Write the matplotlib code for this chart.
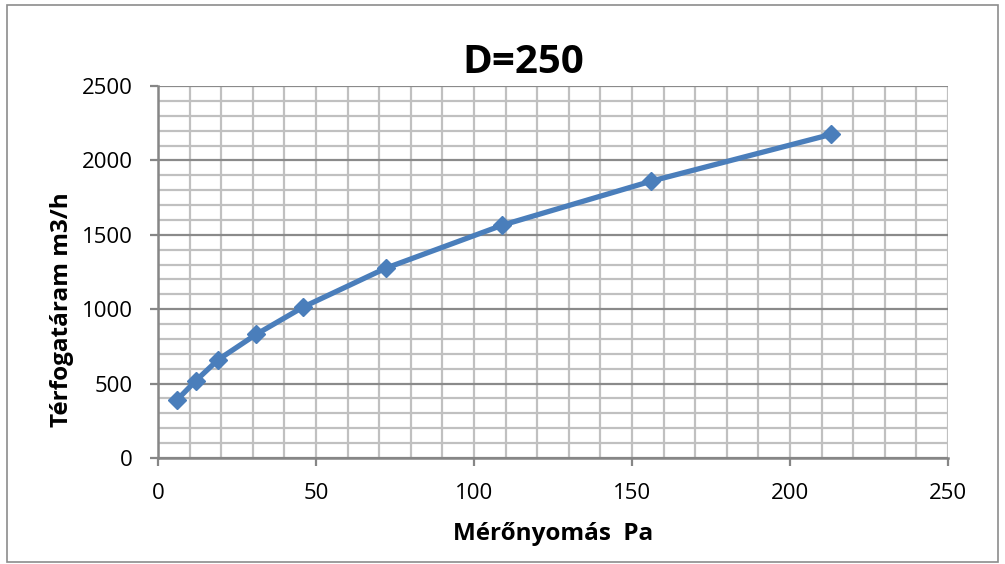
import matplotlib
matplotlib.use("Agg")
import matplotlib.pyplot as plt
from matplotlib.patches import Rectangle
from matplotlib.ticker import MultipleLocator

# Data
pressure_pa = [6, 12, 19, 31, 46, 72, 109, 156, 213]
flow_m3h = [390, 520, 660, 830, 1015, 1275, 1565, 1860, 2175]

title = "D=250"
x_label = "Mérőnyomás  Pa"
y_label = "Térfogatáram m3/h"

plt.rcParams['font.family'] = ['Open Sans', 'DejaVu Sans']

W, H = 1005, 564
fig = plt.figure(figsize=(W / 100, H / 100), dpi=100)
fig.patch.set_facecolor('white')

left, right, top, bottom = 158, 948, 86, 458
ax = fig.add_axes([left / W, 1 - bottom / H, (right - left) / W, (bottom - top) / H])

# outer chart border
fig.patches.append(Rectangle((7 / W, 1 - 562 / H), (998 - 7) / W, (562 - 5) / H,
                             transform=fig.transFigure, fill=False,
                             edgecolor='#8c8c8c', linewidth=1.2, zorder=0))

ax.set_xlim(0, 250)
ax.set_ylim(0, 2500)
ax.xaxis.set_major_locator(MultipleLocator(50))
ax.xaxis.set_minor_locator(MultipleLocator(10))
ax.yaxis.set_major_locator(MultipleLocator(500))
ax.yaxis.set_minor_locator(MultipleLocator(100))

ax.grid(which='minor', axis='both', color='#c0c0c0', linewidth=1.6)
ax.grid(which='major', axis='x', color='#c0c0c0', linewidth=1.6)
ax.grid(which='major', axis='y', color='#8a8a8a', linewidth=1.6)
ax.set_axisbelow(True)

for s in ['top', 'right']:
    ax.spines[s].set_visible(False)
for s in ['left', 'bottom']:
    ax.spines[s].set_color('#868686')
    ax.spines[s].set_linewidth(1.8)

ax.tick_params(which='major', direction='out', length=6, width=1.6, color='#868686',
               labelsize=16, pad=12)
ax.tick_params(which='minor', length=0)

ax.plot(pressure_pa, flow_m3h, color='#4A7EBB', linewidth=3.8, marker='D',
        markersize=9.5, markerfacecolor='#4A7EBB', markeredgecolor='#4A7EBB',
        clip_on=False, zorder=3)

fig.text(523 / W, 1 - 73 / H, title, fontsize=29, fontweight='bold',
         ha='center', va='baseline')

ax.set_xlabel(x_label, fontsize=17.5, fontweight='bold')
ax.xaxis.set_label_coords((553 - left) / (right - left), (bottom - 534) / (bottom - top))
ax.xaxis.label.set_va('center')

ax.set_ylabel(y_label, fontsize=17.5, fontweight='bold')
ax.yaxis.set_label_coords((62 - left) / (right - left), (bottom - 310) / (bottom - top))
ax.yaxis.label.set_va('center')

fig.savefig('out.png', dpi=100)
